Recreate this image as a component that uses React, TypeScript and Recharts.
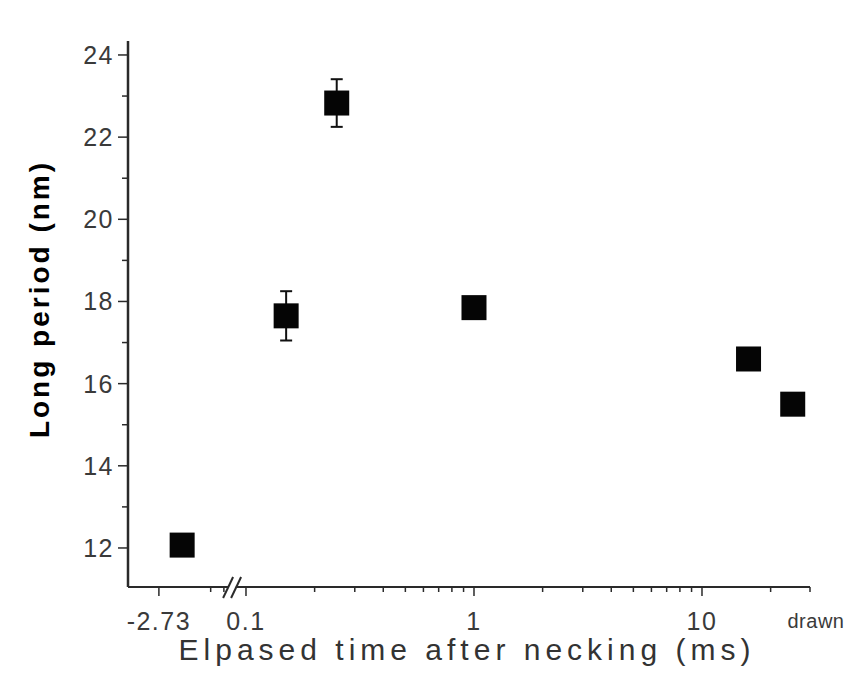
import {
  ScatterChart,
  Scatter,
  XAxis,
  YAxis,
  ErrorBar,
  ReferenceDot,
} from "recharts";

// elapsed time after necking (ms); the negative one sits left of the axis break
const times = [-2.73, 0.15, 0.25, 1, 16, 25];
const periods = [12.07, 17.65, 22.83, 17.85, 16.6, 15.5];
const periodErrors = [0, 0.6, 0.58, 0, 0, 0];

const xMajorValues = [0.1, 1, 10];
const xMajorLabels = ["0.1", "1", "10"];
const xMinorValues = [0.07, 0.08, 0.2, 0.3, 0.4, 0.5, 0.6, 0.7, 0.8, 0.9, 2, 3, 4, 5, 6, 7, 8, 9, 20];
const preBreakLabel = "-2.73";
const endLabel = "drawn";

const yMajorTicks = [12, 14, 16, 18, 20, 22, 24];
const yMinorTicks = [13, 15, 17, 19, 21, 23];

// axis layout (log10 position of the time axis)
const X_MIN = -1.5175;
const X_MAX = 1.4737;
const BREAK_POS = -1.061;
const PRE_POINT_POS = -1.28;
const PRE_TICK_POS = -1.382;
const Y_MIN = 11.05;
const Y_MAX = 24.34;

const toPos = (t: number) => (t < 0 ? PRE_POINT_POS : Math.log10(t));

const data = times.map((t, i) => ({
  pos: toPos(t),
  period: periods[i],
  err: periodErrors[i],
}));

type XTickInfo = { pos: number; label: string; major: boolean };
const xTickList: XTickInfo[] = [
  { pos: PRE_TICK_POS, label: preBreakLabel, major: true },
  ...xMajorValues.map((v, i) => ({ pos: Math.log10(v), label: xMajorLabels[i], major: true })),
  ...xMinorValues.map((v) => ({ pos: Math.log10(v), label: "", major: false })),
  { pos: X_MAX, label: endLabel, major: false },
];

const tickFont = "'Liberation Sans', Arial, sans-serif";
const axisColor = "#2a2a2a";

const XTick = (props: any) => {
  const { x, y, payload } = props;
  const info = xTickList.find((t) => Math.abs(t.pos - payload.value) < 1e-6);
  if (!info) return null;
  const isEnd = info.label === endLabel;
  const len = info.major ? 9 : 5;
  return (
    <g>
      <line x1={x} y1={y} x2={x} y2={y + len} stroke={axisColor} strokeWidth={1.5} />
      {info.label && (
        <text
          x={isEnd ? x + 6 : x}
          y={y + (isEnd ? 41 : 43)}
          textAnchor="middle"
          fill="#3a3a3a"
          fontFamily={tickFont}
          fontSize={isEnd ? 20 : 25}
          letterSpacing={isEnd ? 0.5 : 1.5}
        >
          {info.label}
        </text>
      )}
    </g>
  );
};

const YTick = (props: any) => {
  const { x, y, payload } = props;
  const major = yMajorTicks.includes(payload.value);
  const len = major ? 10 : 6;
  return (
    <g>
      <line x1={x - len} y1={y} x2={x} y2={y} stroke={axisColor} strokeWidth={1.5} />
      {major && (
        <text
          x={x - 14}
          y={y + 9}
          textAnchor="end"
          fill="#3a3a3a"
          fontFamily={tickFont}
          fontSize={25}
          letterSpacing={1.5}
        >
          {payload.value}
        </text>
      )}
    </g>
  );
};

const Square = (props: any) => {
  const { cx, cy } = props;
  const s = 25;
  return <rect x={cx - s / 2} y={cy - s / 2} width={s} height={s} fill="#050505" />;
};

const AxisBreak = (props: any) => {
  const { cx, cy } = props;
  return (
    <g>
      <polygon
        points={`${cx - 7},${cy + 5} ${cx},${cy - 5} ${cx + 7},${cy - 5} ${cx},${cy + 5}`}
        fill="#fff"
      />
      <line x1={cx - 9} y1={cy + 11} x2={cx + 1} y2={cy - 10} stroke={axisColor} strokeWidth={2} />
      <line x1={cx - 1} y1={cy + 11} x2={cx + 9} y2={cy - 10} stroke={axisColor} strokeWidth={2} />
    </g>
  );
};

const YTitle = () => (
  <text
    transform="translate(49, 299) rotate(-90)"
    textAnchor="middle"
    fill="#000"
    fontFamily={tickFont}
    fontWeight="bold"
    fontSize={28}
    letterSpacing={3}
  >
    Long period (nm)
  </text>
);

const XTitle = () => (
  <text
    x={467}
    y={660}
    textAnchor="middle"
    fill="#333"
    fontFamily={tickFont}
    fontSize={30}
    letterSpacing={5}
  >
    Elpased time after necking (ms)
  </text>
);

export default function App() {
  return (
    <div style={{ position: "absolute", left: 0, top: 0, background: "#fff" }}>
      <ScatterChart
        width={854}
        height={695}
        margin={{ top: 41, right: 44, left: 0, bottom: 0 }}
      >
        <XAxis
          type="number"
          dataKey="pos"
          domain={[X_MIN, X_MAX]}
          allowDataOverflow
          ticks={xTickList.map((t) => t.pos)}
          interval={0}
          height={108}
          tickSize={0}
          tickMargin={0}
          tickLine={false}
          tick={<XTick />}
          axisLine={{ stroke: axisColor, strokeWidth: 2 }}
          label={{ content: <XTitle /> }}
        />
        <YAxis
          type="number"
          dataKey="period"
          domain={[Y_MIN, Y_MAX]}
          allowDataOverflow
          ticks={[...yMajorTicks, ...yMinorTicks]}
          interval={0}
          width={128}
          tickSize={0}
          tickMargin={0}
          tickLine={false}
          tick={<YTick />}
          axisLine={{ stroke: axisColor, strokeWidth: 2.5 }}
          label={{ content: <YTitle /> }}
        />
        <Scatter data={data} shape={<Square />} isAnimationActive={false}>
          <ErrorBar dataKey="err" direction="y" width={6} stroke="#111" strokeWidth={2} />
        </Scatter>
        <ReferenceDot x={BREAK_POS} y={Y_MIN} ifOverflow="visible" shape={<AxisBreak />} />
      </ScatterChart>
    </div>
  );
}
